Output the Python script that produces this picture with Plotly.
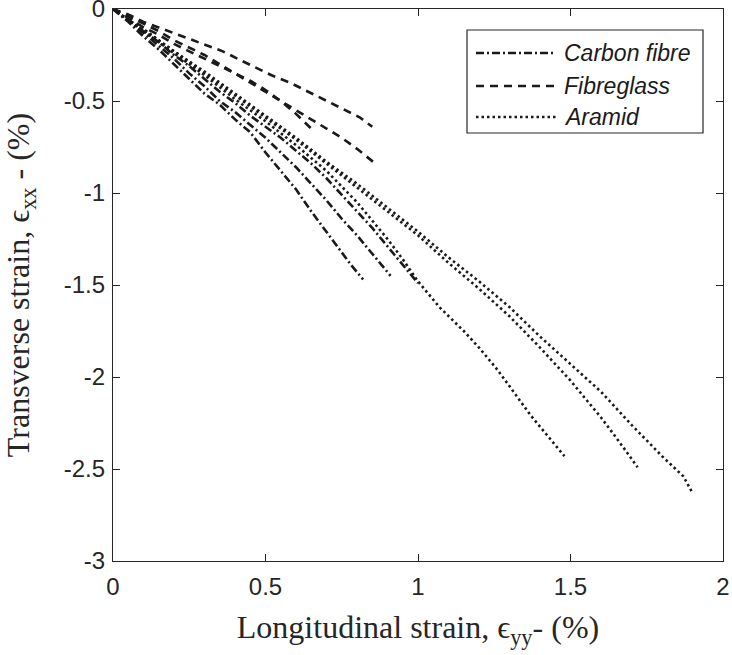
import plotly.graph_objects as go

# ---------------- data ----------------
carbon_a_x = [0, 0.05, 0.1, 0.15, 0.2, 0.25, 0.3, 0.35, 0.4, 0.45, 0.5, 0.55, 0.6, 0.65, 0.7, 0.75, 0.78, 0.82]
carbon_a_y = [0, -0.07, -0.15, -0.22, -0.3, -0.38, -0.46, -0.52, -0.6, -0.67, -0.78, -0.88, -0.98, -1.1, -1.21, -1.32, -1.39, -1.47]

carbon_b_x = [0, 0.05, 0.1, 0.15, 0.2, 0.25, 0.3, 0.35, 0.4, 0.45, 0.5, 0.55, 0.6, 0.65, 0.7, 0.75, 0.8, 0.85, 0.88, 0.91]
carbon_b_y = [0, -0.06, -0.13, -0.2, -0.27, -0.35, -0.42, -0.5, -0.56, -0.63, -0.7, -0.78, -0.86, -0.95, -1.04, -1.14, -1.23, -1.33, -1.39, -1.45]

carbon_c_x = [0, 0.05, 0.1, 0.15, 0.2, 0.25, 0.3, 0.35, 0.4, 0.45, 0.5, 0.55, 0.6, 0.65, 0.7, 0.75, 0.8, 0.85, 0.9, 0.95, 1.0]
carbon_c_y = [0, -0.06, -0.12, -0.18, -0.25, -0.31, -0.38, -0.45, -0.51, -0.58, -0.64, -0.7, -0.77, -0.84, -0.92, -1.01, -1.1, -1.19, -1.29, -1.39, -1.49]

glass_a_x = [0, 0.05, 0.1, 0.15, 0.2, 0.25, 0.3, 0.36, 0.42, 0.47, 0.52, 0.58, 0.64, 0.69, 0.75, 0.81, 0.85]
glass_a_y = [0, -0.03, -0.07, -0.1, -0.13, -0.16, -0.19, -0.23, -0.28, -0.32, -0.36, -0.4, -0.45, -0.49, -0.54, -0.59, -0.64]

glass_b_x = [0, 0.05, 0.1, 0.15, 0.2, 0.25, 0.3, 0.35, 0.4, 0.45, 0.5, 0.55, 0.6, 0.65, 0.7, 0.75, 0.8, 0.86]
glass_b_y = [0, -0.04, -0.08, -0.12, -0.17, -0.21, -0.25, -0.3, -0.35, -0.4, -0.45, -0.5, -0.55, -0.6, -0.65, -0.7, -0.76, -0.84]

glass_c_x = [0, 0.05, 0.1, 0.15, 0.2, 0.25, 0.3, 0.35, 0.4, 0.45, 0.5, 0.55, 0.6, 0.65]
glass_c_y = [0, -0.05, -0.1, -0.14, -0.19, -0.23, -0.27, -0.31, -0.35, -0.39, -0.44, -0.5, -0.57, -0.65]

aramid_a_x = [0, 0.05, 0.1, 0.2, 0.3, 0.4, 0.5, 0.6, 0.7, 0.8, 0.9, 0.95, 1.0, 1.07, 1.15, 1.2, 1.26, 1.3, 1.37, 1.42, 1.48]
aramid_a_y = [0, -0.06, -0.12, -0.24, -0.36, -0.49, -0.61, -0.74, -0.88, -1.05, -1.25, -1.36, -1.48, -1.62, -1.75, -1.84, -1.96, -2.05, -2.21, -2.31, -2.43]

aramid_b_x = [0, 0.05, 0.1, 0.2, 0.3, 0.4, 0.5, 0.6, 0.7, 0.8, 0.9, 1.0, 1.1, 1.2, 1.3, 1.4, 1.5, 1.6, 1.65, 1.72]
aramid_b_y = [0, -0.06, -0.11, -0.23, -0.35, -0.47, -0.59, -0.71, -0.84, -0.97, -1.1, -1.23, -1.38, -1.52, -1.67, -1.84, -2.02, -2.22, -2.33, -2.49]

aramid_c_x = [0, 0.05, 0.1, 0.2, 0.3, 0.4, 0.5, 0.6, 0.7, 0.8, 0.9, 1.0, 1.1, 1.2, 1.3, 1.4, 1.5, 1.6, 1.7, 1.8, 1.87, 1.9]
aramid_c_y = [0, -0.06, -0.11, -0.23, -0.34, -0.46, -0.58, -0.7, -0.83, -0.95, -1.08, -1.21, -1.35, -1.48, -1.62, -1.78, -1.93, -2.08, -2.26, -2.43, -2.54, -2.63]

series_names = ["Carbon fibre", "Fibreglass", "Aramid"]

x_tickvals = [0, 0.5, 1, 1.5, 2]
x_ticktext = ["0", "0.5", "1", "1.5", "2"]
y_tickvals = [0, -0.5, -1, -1.5, -2, -2.5, -3]
y_ticktext = ["0", "-0.5", "-1", "-1.5", "-2", "-2.5", "-3"]

# ---------------- styles ----------------
INK = "#1a1a1a"
AXIS = "#262626"
DASHES = {
    "Carbon fibre": "8px,3px,2px,3px",
    "Fibreglass": "8px,6px",
    "Aramid": "2.5px,3px",
}
LW = 2.6

groups = {
    "Carbon fibre": [(carbon_a_x, carbon_a_y), (carbon_b_x, carbon_b_y), (carbon_c_x, carbon_c_y)],
    "Fibreglass": [(glass_a_x, glass_a_y), (glass_b_x, glass_b_y), (glass_c_x, glass_c_y)],
    "Aramid": [(aramid_a_x, aramid_a_y), (aramid_b_x, aramid_b_y), (aramid_c_x, aramid_c_y)],
}

fig = go.Figure()
for name in series_names:
    for xs, ys in groups[name]:
        fig.add_trace(go.Scatter(
            x=xs, y=ys, mode="lines", name=name, showlegend=False,
            line=dict(color=INK, width=LW, dash=DASHES[name]),
        ))

# ---------------- custom legend (box, samples, labels) ----------------
L, R, T, B = 113, 723, 9, 561
W, H = R - L, B - T
def px(xp):
    return (xp - L) / W
def py(yp):
    return (B - yp) / H

shapes = [dict(type="rect", xref="paper", yref="paper",
               x0=px(467), x1=px(703), y0=py(133), y1=py(30),
               line=dict(color=AXIS, width=1.2), fillcolor="white", layer="above")]
annotations = []
entry_y = [53, 86, 117]
for name, yy in zip(series_names, entry_y):
    shapes.append(dict(type="line", xref="paper", yref="paper",
                       x0=px(476), x1=px(556), y0=py(yy), y1=py(yy),
                       line=dict(color=INK, width=LW, dash=DASHES[name]), layer="above"))
    annotations.append(dict(xref="paper", yref="paper", x=px(562), y=py(yy),
                            xanchor="left", yanchor="middle", showarrow=False,
                            text=name,
                            font=dict(family="Liberation Sans, Arial", size=23,
                                      color=INK, style="italic")))

axis_common = dict(
    showline=True, linecolor=AXIS, linewidth=1.3, mirror="ticks",
    ticks="inside", ticklen=7, tickcolor=AXIS, tickwidth=1.3,
    showgrid=False, zeroline=False, ticklabeloverflow="allow",
    automargin=False,
    tickfont=dict(family="Liberation Sans, Arial", size=24, color=AXIS),
)

fig.update_layout(
    width=732, height=655,
    margin=dict(l=L, r=732 - R, t=T, b=655 - B, autoexpand=False),
    paper_bgcolor="white", plot_bgcolor="white",
    showlegend=False,
    shapes=shapes, annotations=annotations,
    xaxis=dict(range=[0, 2], tickvals=x_tickvals, ticktext=x_ticktext,
               ticklabelstandoff=4,
               title=dict(text="Longitudinal strain, ϵ<sub>yy</sub>- (%)",
                          font=dict(family="Liberation Serif, Times New Roman", size=32, color=AXIS),
                          standoff=16),
               **axis_common),
    yaxis=dict(range=[-3, 0], tickvals=y_tickvals, ticktext=y_ticktext,
               ticklabelstandoff=2,
               title=dict(text="Transverse strain, ϵ<sub>xx</sub> - (%)",
                          font=dict(family="Liberation Serif, Times New Roman", size=32, color=AXIS),
                          standoff=24),
               **axis_common),
)

fig.write_html("out.html")
